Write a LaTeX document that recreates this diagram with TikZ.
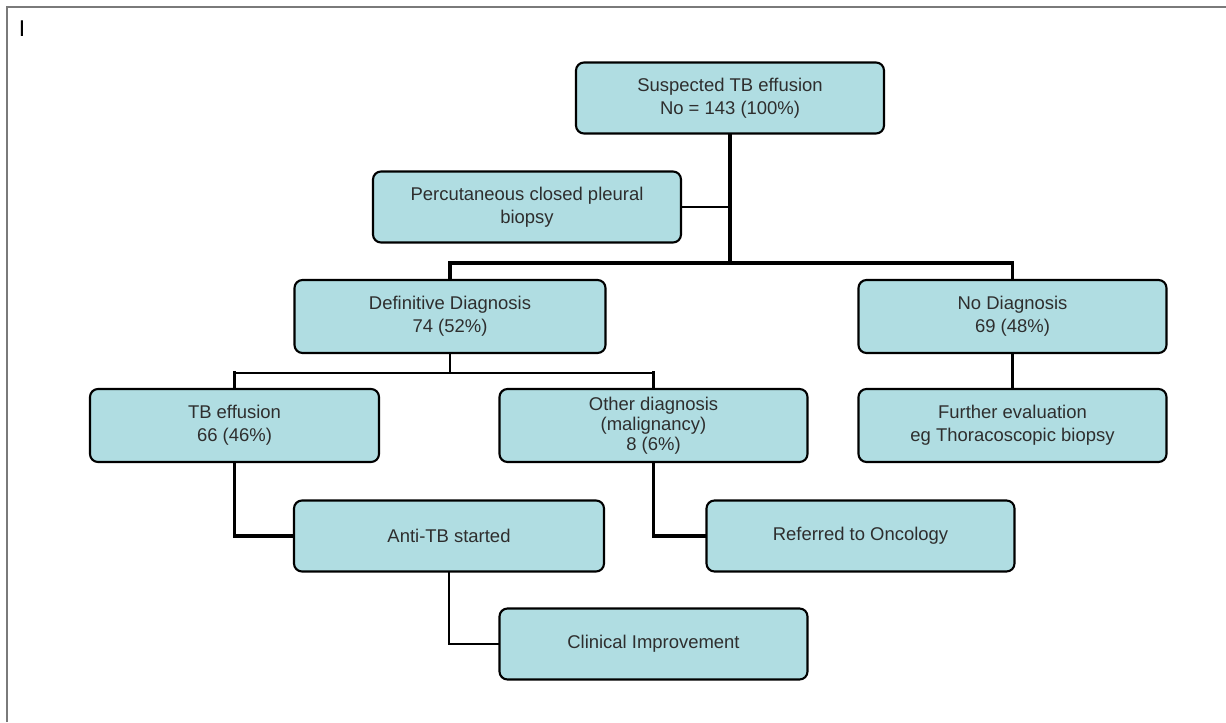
\documentclass[tikz,border=0pt]{standalone}
\usepackage{fontspec}
\setmainfont{Liberation Sans}
\definecolor{boxfill}{HTML}{B0DDE2}
\definecolor{boxtext}{HTML}{2E2E2E}
\definecolor{framegray}{HTML}{7A7A7A}
\begin{document}
\begin{tikzpicture}
            %
            % `box' is used for every step of the flow chart.
            % `trunk' is used for the heavy connectors, `branch' for the light ones.
            \tikzstyle{box} = [draw,fill=boxfill,line width=1.2pt,rounded corners=1.6mm,align=center,text=boxtext,font=\fontsize{10.5}{13}\selectfont,minimum width=6.16cm,minimum height=1.42cm,inner sep=2pt]
            \tikzstyle{trunk} = [line width=1.9pt,line cap=rect]
            \tikzstyle{mid} = [line width=1.4pt,line cap=rect]
            \tikzstyle{branch} = [line width=0.9pt,line cap=rect]
            \useasboundingbox (0,0) rectangle (24.52,-14.44);
            %
            % Frame
            \draw[framegray,line width=1.1pt] (0.14,-14.44) -- (0.14,-0.14) -- (24.52,-0.14);
            \node[font=\fontsize{13}{15}\selectfont,inner sep=0pt] (mark) at (0.44,-0.58) {I};
            %
            % Row 1
            \node[box] (susp) at (14.6,-1.96) {Suspected TB effusion\\No = 143 (100\%)};
            \node[box] (biopsy) at (10.54,-4.14) {Percutaneous closed pleural\\biopsy};
            %
            % Row 2
            \node[box,minimum width=6.22cm,minimum height=1.46cm] (defdiag) at (9.0,-6.33) {Definitive Diagnosis\\74 (52\%)};
            \node[box,minimum height=1.46cm] (nodiag) at (20.25,-6.33) {No Diagnosis\\69 (48\%)};
            %
            % Row 3
            \node[box,minimum width=5.78cm,minimum height=1.46cm] (tbeff) at (4.69,-8.51) {TB effusion\\66 (46\%)};
            \node[box,minimum height=1.46cm,font=\fontsize{10.5}{11.5}\selectfont] (otherdiag) at (13.07,-8.51) {Other diagnosis\\(malignancy)\\8 (6\%)};
            \node[box,minimum height=1.46cm] (further) at (20.25,-8.51) {Further evaluation\\eg Thoracoscopic biopsy};
            %
            % Row 4
            \node[box,minimum width=6.2cm] (antitb) at (8.98,-10.72) {Anti-TB started};
            \node[box] (oncology) at (17.21,-10.72) {Referred to Oncology};
            %
            % Row 5
            \node[box] (improve) at (13.07,-12.88) {Clinical Improvement};
            %
            % Connectors
            \coordinate (split1) at (14.6,-5.26);
            \coordinate (split2) at (9.0,-7.46);
            \draw[trunk] (susp.south) -- (split1);
            \draw[branch] (biopsy.east) -- (biopsy.east -| split1);
            \draw[trunk] (defdiag.north) |- (split1) -| (nodiag.north);
            \draw[mid] (defdiag.south) -- (split2);
            \draw[branch] (tbeff.north |- split2) -- (otherdiag.north |- split2);
            \draw[trunk] (tbeff.north |- split2) -- (tbeff.north);
            \draw[trunk] (otherdiag.north |- split2) -- (otherdiag.north);
            \draw[mid] (nodiag.south) -- (further.north);
            \draw[trunk] (tbeff.south) |- (antitb.west);
            \draw[trunk] (otherdiag.south) |- (oncology.west);
            \draw[branch] (antitb.south) |- (improve.west);
\end{tikzpicture}
\end{document}
